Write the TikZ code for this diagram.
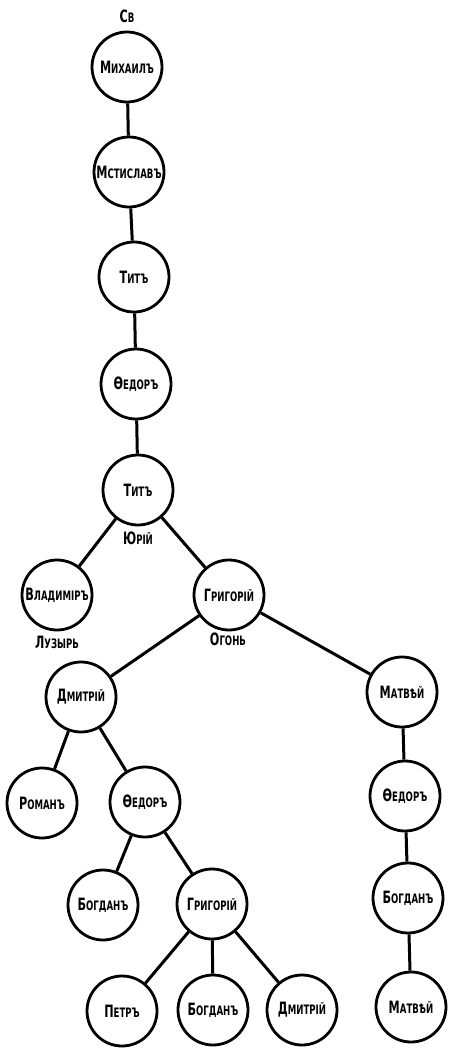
\documentclass[tikz,border=0pt]{standalone}
\usepackage{fontspec}
\newfontfamily\lbl[FakeStretch=0.66]{DejaVu Sans}
\newcommand\nm[2]{{\fontsize{17}{17}\selectfont #1}{\fontsize{13}{13}\selectfont #2}}
\tikzset{
  person/.style={circle, draw, line width=2.8pt, minimum size=70pt, inner sep=0pt, font=\lbl\bfseries},
  edge/.style={line width=3pt},
  lab/.style={font=\lbl\bfseries, inner sep=0pt}
}
\begin{document}
\begin{tikzpicture}[x=1pt,y=-1pt]
\useasboundingbox (0,0) rectangle (449,1048);
\node[lab] (sv) at (127,16) {\nm{С}{В}};
\node[person] (mikh) at (127,67) {\nm{М}{ИХАИЛЪ}};
\node[person] (mst) at (129,172) {\nm{М}{СТИСЛАВЪ}};
\node[person] (tit1) at (134,277) {\nm{Т}{ИТЪ}};
\node[person] (fed1) at (136,384) {\nm{Ѳ}{ЕДОРЪ}};
\node[person] (tit2) at (138,490) {\nm{Т}{ИТЪ}};
\node[lab] (yur) at (138,538) {\nm{Ю}{РІЙ}};
\node[person] (vlad) at (57,595) {\nm{В}{ЛАДИМІРЪ}};
\node[lab] (luz) at (57,642) {\nm{Л}{УЗЫРЬ}};
\node[person] (gr1) at (229,595) {\nm{Г}{РИГОРІЙ}};
\node[lab] (ogon) at (228,639) {\nm{О}{ГОНЬ}};
\node[person] (dm1) at (81,697) {\nm{Д}{МИТРІЙ}};
\node[person] (mat1) at (402,692) {\nm{М}{АТВѢЙ}};
\node[person] (rom) at (42,803) {\nm{Р}{ОМАНЪ}};
\node[person] (fed2) at (145,802) {\nm{Ѳ}{ЕДОРЪ}};
\node[person] (fed3) at (405,796) {\nm{Ѳ}{ЕДОРЪ}};
\node[person] (bog1) at (103,905) {\nm{Б}{ОГДАНЪ}};
\node[person] (gr2) at (212,904) {\nm{Г}{РИГОРІЙ}};
\node[person] (bog2) at (408,898) {\nm{Б}{ОГДАНЪ}};
\node[person] (petr) at (122,1011) {\nm{П}{ЕТРЪ}};
\node[person] (bog3) at (213,1010) {\nm{Б}{ОГДАНЪ}};
\node[person] (dm2) at (302,1010) {\nm{Д}{МИТРІЙ}};
\node[person] (mat2) at (411,1007) {\nm{М}{АТВѢЙ}};
\draw[edge] (mikh) -- (mst);
\draw[edge] (mst) -- (tit1);
\draw[edge] (tit1) -- (fed1);
\draw[edge] (fed1) -- (tit2);
\draw[edge] (tit2) -- (vlad);
\draw[edge] (tit2) -- (gr1);
\draw[edge] (gr1) -- (dm1);
\draw[edge] (gr1) -- (mat1);
\draw[edge] (dm1) -- (rom);
\draw[edge] (dm1) -- (fed2);
\draw[edge] (fed2) -- (bog1);
\draw[edge] (fed2) -- (gr2);
\draw[edge] (gr2) -- (petr);
\draw[edge] (gr2) -- (bog3);
\draw[edge] (gr2) -- (dm2);
\draw[edge] (mat1) -- (fed3);
\draw[edge] (fed3) -- (bog2);
\draw[edge] (bog2) -- (mat2);
\end{tikzpicture}
\end{document}
